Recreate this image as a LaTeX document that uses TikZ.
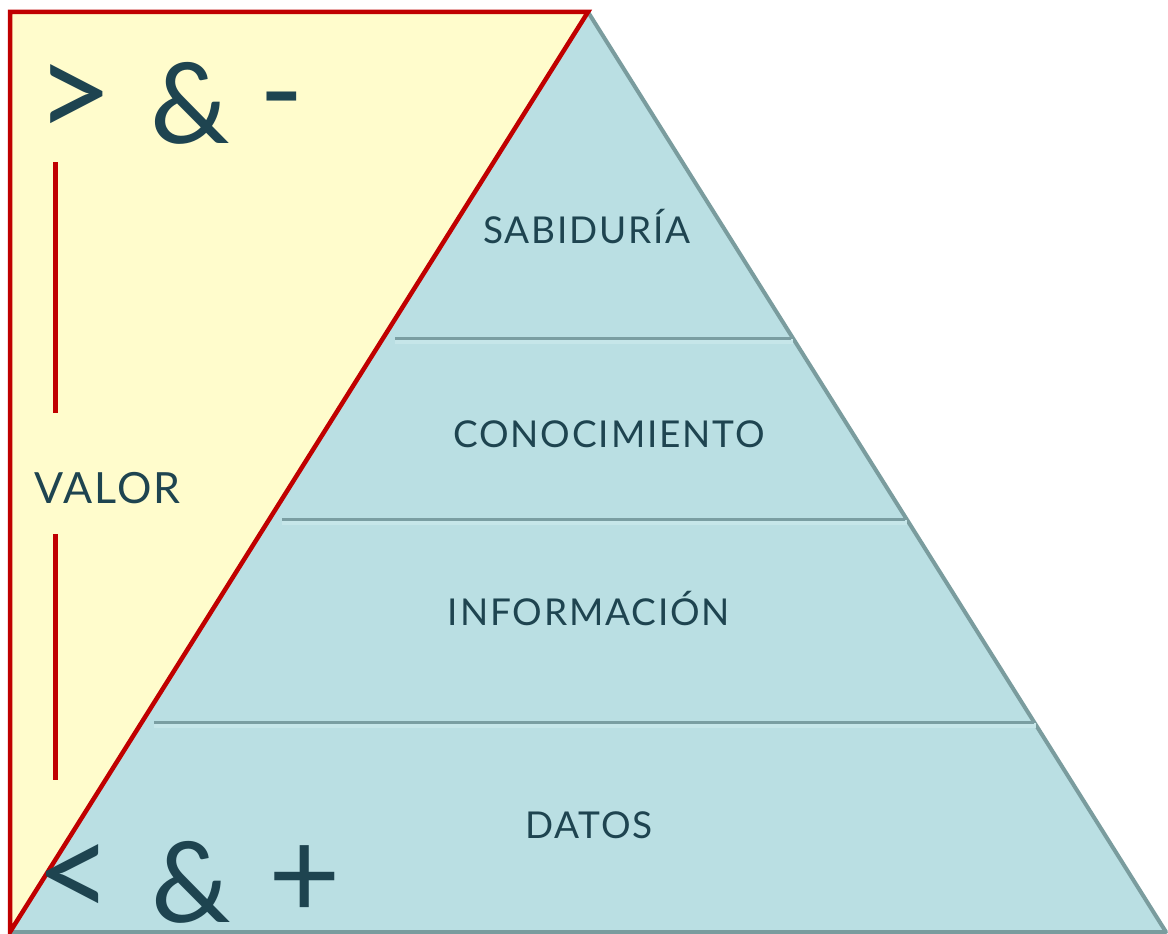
\documentclass[tikz,border=0pt]{standalone}
\usepackage{fontspec}
\setmainfont{Lato}
\newfontfamily\labfont[LetterSpace=5]{Lato}
\definecolor{paleyellow}{RGB}{255,252,204}
\definecolor{pyrfill}{RGB}{186,223,227}
\definecolor{pyredge}{RGB}{122,156,158}
\definecolor{ridge}{RGB}{198,230,233}
\definecolor{ridgeshadow}{RGB}{122,158,162}
\definecolor{txt}{RGB}{30,68,80}
\definecolor{valred}{RGB}{192,0,0}
\tikzset{
  label/.style={text=txt, inner sep=0pt, anchor=base, font=\labfont\fontsize{37}{40}\selectfont},
  bigsym/.style={text=txt, inner sep=0pt, anchor=center, font=\fontsize{112}{120}\selectfont},
  redbar/.style={draw=valred, line width=5pt},
  ridgeline/.style={draw=ridge, line width=5pt},
  ridgeshade/.style={draw=ridgeshadow, line width=3pt},
}
\begin{document}
\begin{tikzpicture}[x=1pt,y=-1pt]
\useasboundingbox (0,0) rectangle (1168,934);
\fill[white] (0,0) rectangle (1168,934);
% corners
\coordinate (tl) at (10,12);
\coordinate (apex) at (588,12);
\coordinate (bl) at (10,932);
\coordinate (br) at (1166,932);
% yellow triangle
\fill[paleyellow] (tl) -- (apex) -- (bl) -- cycle;
% pyramid
\fill[pyrfill] (apex) -- (br) -- (bl) -- cycle;
\draw[pyredge, line width=4pt, line join=round] (apex) -- (br) -- (bl);
% layer separators
\coordinate (l1a) at (395,338); \coordinate (l1b) at (793,338);
\coordinate (l2a) at (282,519); \coordinate (l2b) at (907,519);
\coordinate (l3a) at (154,722); \coordinate (l3b) at (1036,722);
\foreach \a/\b in {l1a/l1b, l2a/l2b, l3a/l3b}{
  \draw[ridgeline] ([yshift=-3.5pt]\a) -- ([yshift=-3.5pt]\b);
  \draw[ridgeshade] (\a) -- ([xshift=-2pt]\b);
}
% red outline
\draw[valred, line width=4.5pt, line join=miter] (tl) -- (apex) -- (bl) -- cycle;
% red bars
\coordinate (b1a) at (55,162); \coordinate (b1b) at (55,413);
\coordinate (b2a) at (55,534); \coordinate (b2b) at (55,780);
\draw[redbar] (b1a) -- (b1b);
\draw[redbar] (b2a) -- (b2b);
% labels
\node[label] (sab) at (587,243) {SABIDURÍA};
\node[label] (con) at (609,447) {CONOCIMIENTO};
\node[label] (inf) at (589,625) {INFORMACIÓN};
\node[label] (dat) at (589,838) {DATOS};
\node[text=txt, inner sep=0pt, anchor=base west, font=\labfont\fontsize{43}{48}\selectfont] (val) at (34,503) {VALOR};
% big symbols
\node[bigsym, font=\fontsize{135}{140}\selectfont] (gt) at (75,102) {>};
\node[bigsym] (amp1) at (190,103) {\&};
\node[bigsym, font=\fontsize{120}{130}\selectfont] (minus) at (282,112) {-};
\node[bigsym, font=\fontsize{135}{140}\selectfont] (lt) at (75,882) {<};
\node[bigsym] (amp2) at (191,882) {\&};
\node[bigsym, font=\fontsize{125}{130}\selectfont] (plus) at (305,882) {+};
\end{tikzpicture}
\end{document}
